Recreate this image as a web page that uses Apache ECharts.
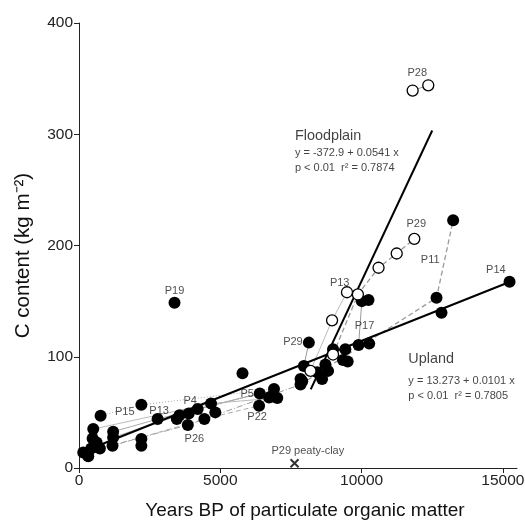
<!DOCTYPE html>
<html><head><meta charset="utf-8">
<script src="https://cdn.jsdelivr.net/npm/echarts@6/dist/echarts.min.js"></script>
<style>html,body{margin:0;padding:0;background:#fff}#c{width:525px;height:525px}</style>
</head><body><div id="c"></div>
<script>
// Filled circles: upland samples [years BP, C content]
const uplandPoints = [[151,14],[327,10.5],[433,17.6],[482,26.6],[504,35],[623,23],[739,17.6],[764,47],[1186,20],[1208,27.5],[1208,32.6],[2207,20],[2207,26],[2207,56.8],[2781,44],[3380,148.6],[3462,44],[3556,47.5],[3850,38.6],[3884,49],[4201,53],[4437,44],[4672,58],[4824,50],[5786,85.2],[6373,56],[6397,67],[6725,63.4],[6784,64],[6901,71],[7017,63],[7840,75],[7840,80],[7900,78],[7957,91.7],[8134,112.7],[8427,86],[8603,80],[8720,93],[8814,87.3],[8990,106.7],[9342,97],[9425,106.7],[9507,95.7],[9893,110.6],[10010,150],[10245,151],[10270,111.8],[12652,153],[12828,139.6],[13240,222.7],[15236,167.4]];
// Open circles: floodplain samples
const floodPoints = [[8192,87.3],[8955,132.7],[8990,102],[9483,158],[9870,156],[10600,180],[11243,192.8],[11866,206],[11807,339.3],[12360,344]];
// Cross: P29 peaty-clay
const peatyClay = [[7628,4.2]];
// Profile connection lines
const p28Line = [[11807,339.3],[12360,344]];
const p29OpenLine = [[8990,102],[9870,156],[10600,180],[11243,192.8],[11866,206]];
const p13OpenLine = [[8192,87.3],[8955,132.7],[9483,158]];
const p11Line = [[7840,75],[12652,153],[13240,222.7]];
const p17Line = [[9893,110.6],[10010,150]];
const p29Line = [[7957,91.7],[8134,112.7]];
const p15Line = [[764,47],[2207,56.8],[6901,71]];
const p13Line = [[1208,32.6],[2781,44],[6397,67]];
const p4Line = [[504,35],[4672,58],[7017,63]];
const p26Line = [[739,17.6],[3850,38.6],[7840,75]];
const p22Line = [[1186,20],[4437,44],[6373,56]];
const p5Line = [[1208,27.5],[4201,53],[6397,67]];
// Regression fits: [intercept, slope], x range
const floodFit = [-372.9, 0.0541]; const floodRange = [8200, 12500];
const uplandFit = [13.273, 0.0101]; const uplandRange = [600, 15236];
// Profile labels [x, y, text]
const profileLabels = [[11972,355,'P28'],[11937,219,'P29'],[12430,187,'P11'],[14753,178,'P14'],[9225,166,'P13'],[10105,128,'P17'],[7570,113,'P29'],[3380,159,'P19'],[1620,50.7,'P15'],[2834,51,'P13'],[3936,60,'P4'],[5951,66.4,'P5'],[6303,46,'P22'],[4084,26,'P26'],[8098,15.2,'P29 peaty-clay']];
// Fit annotation texts [x, y, text]
const fitTitles = [[7640,298.6,'Floodplain'],[11655,97.8,'Upland']];
const fitEquations = [[7640,283.4,'y = -372.9 + 0.0541 x'],[7640,270,'p < 0.01  r\u00b2 = 0.7874'],[11655,78,'y = 13.273 + 0.0101 x'],[11655,64.6,'p < 0.01  r\u00b2 = 0.7805']];
const xTicks = [0, 5000, 10000, 15000];
const yTicks = [0, 100, 200, 300, 400];

const font = 'Liberation Sans, Arial, sans-serif';
const fitLine = (f, r) => r.map(x => [x, f[0] + f[1] * x]);
const grayLine = (data, type, color, w) => ({type:'line', data, symbol:'none', silent:true, z:1,
  lineStyle:{color: color||'#9a9a9a', width: w||1.2, type: type||'solid'}});

const chart = echarts.init(document.getElementById('c'), null, {renderer:'canvas'});
chart.setOption({
  animation:false,
  grid:{left:79, right:8, top:23, bottom:57, outerBoundsMode:'none', containLabel:false},
  xAxis:{type:'value', min:0, max:15500, interval:5000,
    name:'Years BP of particulate organic matter', nameLocation:'middle', nameGap:33,
    nameTextStyle:{fontFamily:font, fontSize:19, color:'#111', padding:[0,0,0,14]},
    axisLine:{lineStyle:{color:'#222', width:1}}, axisTick:{length:5, lineStyle:{color:'#222'}},
    axisLabel:{fontFamily:font, fontSize:15.5, color:'#222', margin:5, showMaxLabel:false,
      formatter: v => xTicks.includes(v) ? String(v) : ''},
    splitLine:{show:false}},
  yAxis:{type:'value', min:0, max:400, interval:100,
    name:'C content (kg m\u207b\u00b2)', nameLocation:'middle', nameGap:45,
    nameTextStyle:{fontFamily:font, fontSize:20.5, color:'#111', padding:[0,20,0,0]},
    axisLine:{show:true, lineStyle:{color:'#222', width:1}}, axisTick:{show:true, length:5, lineStyle:{color:'#222'}},
    axisLabel:{fontFamily:font, fontSize:15.5, color:'#222', margin:6,
      formatter: v => yTicks.includes(v) ? String(v) : ''},
    splitLine:{show:false}},
  series:[
    grayLine(p28Line,'solid','#999',1),
    grayLine(p29OpenLine,[5,3],'#999',1.3),
    grayLine(p13OpenLine,'solid','#bbb',1),
    grayLine(p11Line,[5,3],'#999',1.3),
    grayLine(p17Line,'solid','#999',1),
    grayLine(p29Line,'solid','#999',1),
    grayLine(p15Line,[1,2],'#aaa',1),
    grayLine(p13Line,'solid','#aaa',1),
    grayLine(p4Line,'solid','#bbb',1),
    grayLine(p26Line,[6,2,1,2],'#999',1),
    grayLine(p22Line,[5,3],'#aaa',1),
    grayLine(p5Line,'solid','#aaa',1),
    {type:'line', data:fitLine(floodFit, floodRange), symbol:'none', z:3, lineStyle:{color:'#000', width:2}},
    {type:'line', data:fitLine(uplandFit, uplandRange), symbol:'none', z:3, lineStyle:{color:'#000', width:2}},
    {type:'scatter', data:uplandPoints, symbol:'circle', symbolSize:12, z:4, itemStyle:{color:'#000', opacity:1}},
    {type:'scatter', data:floodPoints, symbol:'circle', symbolSize:11, z:4, itemStyle:{color:'#fff', borderColor:'#000', borderWidth:1.3, opacity:1}},
    {type:'scatter', data:peatyClay, symbol:'path://M0,0L10,10M10,0L0,10', symbolSize:8, z:4,
      itemStyle:{color:'none', borderColor:'#000', borderWidth:2}},
    {type:'scatter', data:profileLabels.map(d => ({value:[d[0], d[1]], name:d[2]})), symbolSize:0, z:5, silent:true,
      label:{show:true, position:'inside', formatter: p => p.name, fontFamily:font, fontSize:11, color:'#222'}},
    {type:'scatter', data:fitTitles.map(d => ({value:[d[0], d[1]], name:d[2]})), symbolSize:0, z:5, silent:true,
      label:{show:true, position:'right', distance:0, formatter: p => p.name, fontFamily:font, fontSize:14.4, color:'#111'}},
    {type:'scatter', data:fitEquations.map(d => ({value:[d[0], d[1]], name:d[2]})), symbolSize:0, z:5, silent:true,
      label:{show:true, position:'right', distance:0, formatter: p => p.name, fontFamily:font, fontSize:11, color:'#111'}}
  ]
});
</script></body></html>
